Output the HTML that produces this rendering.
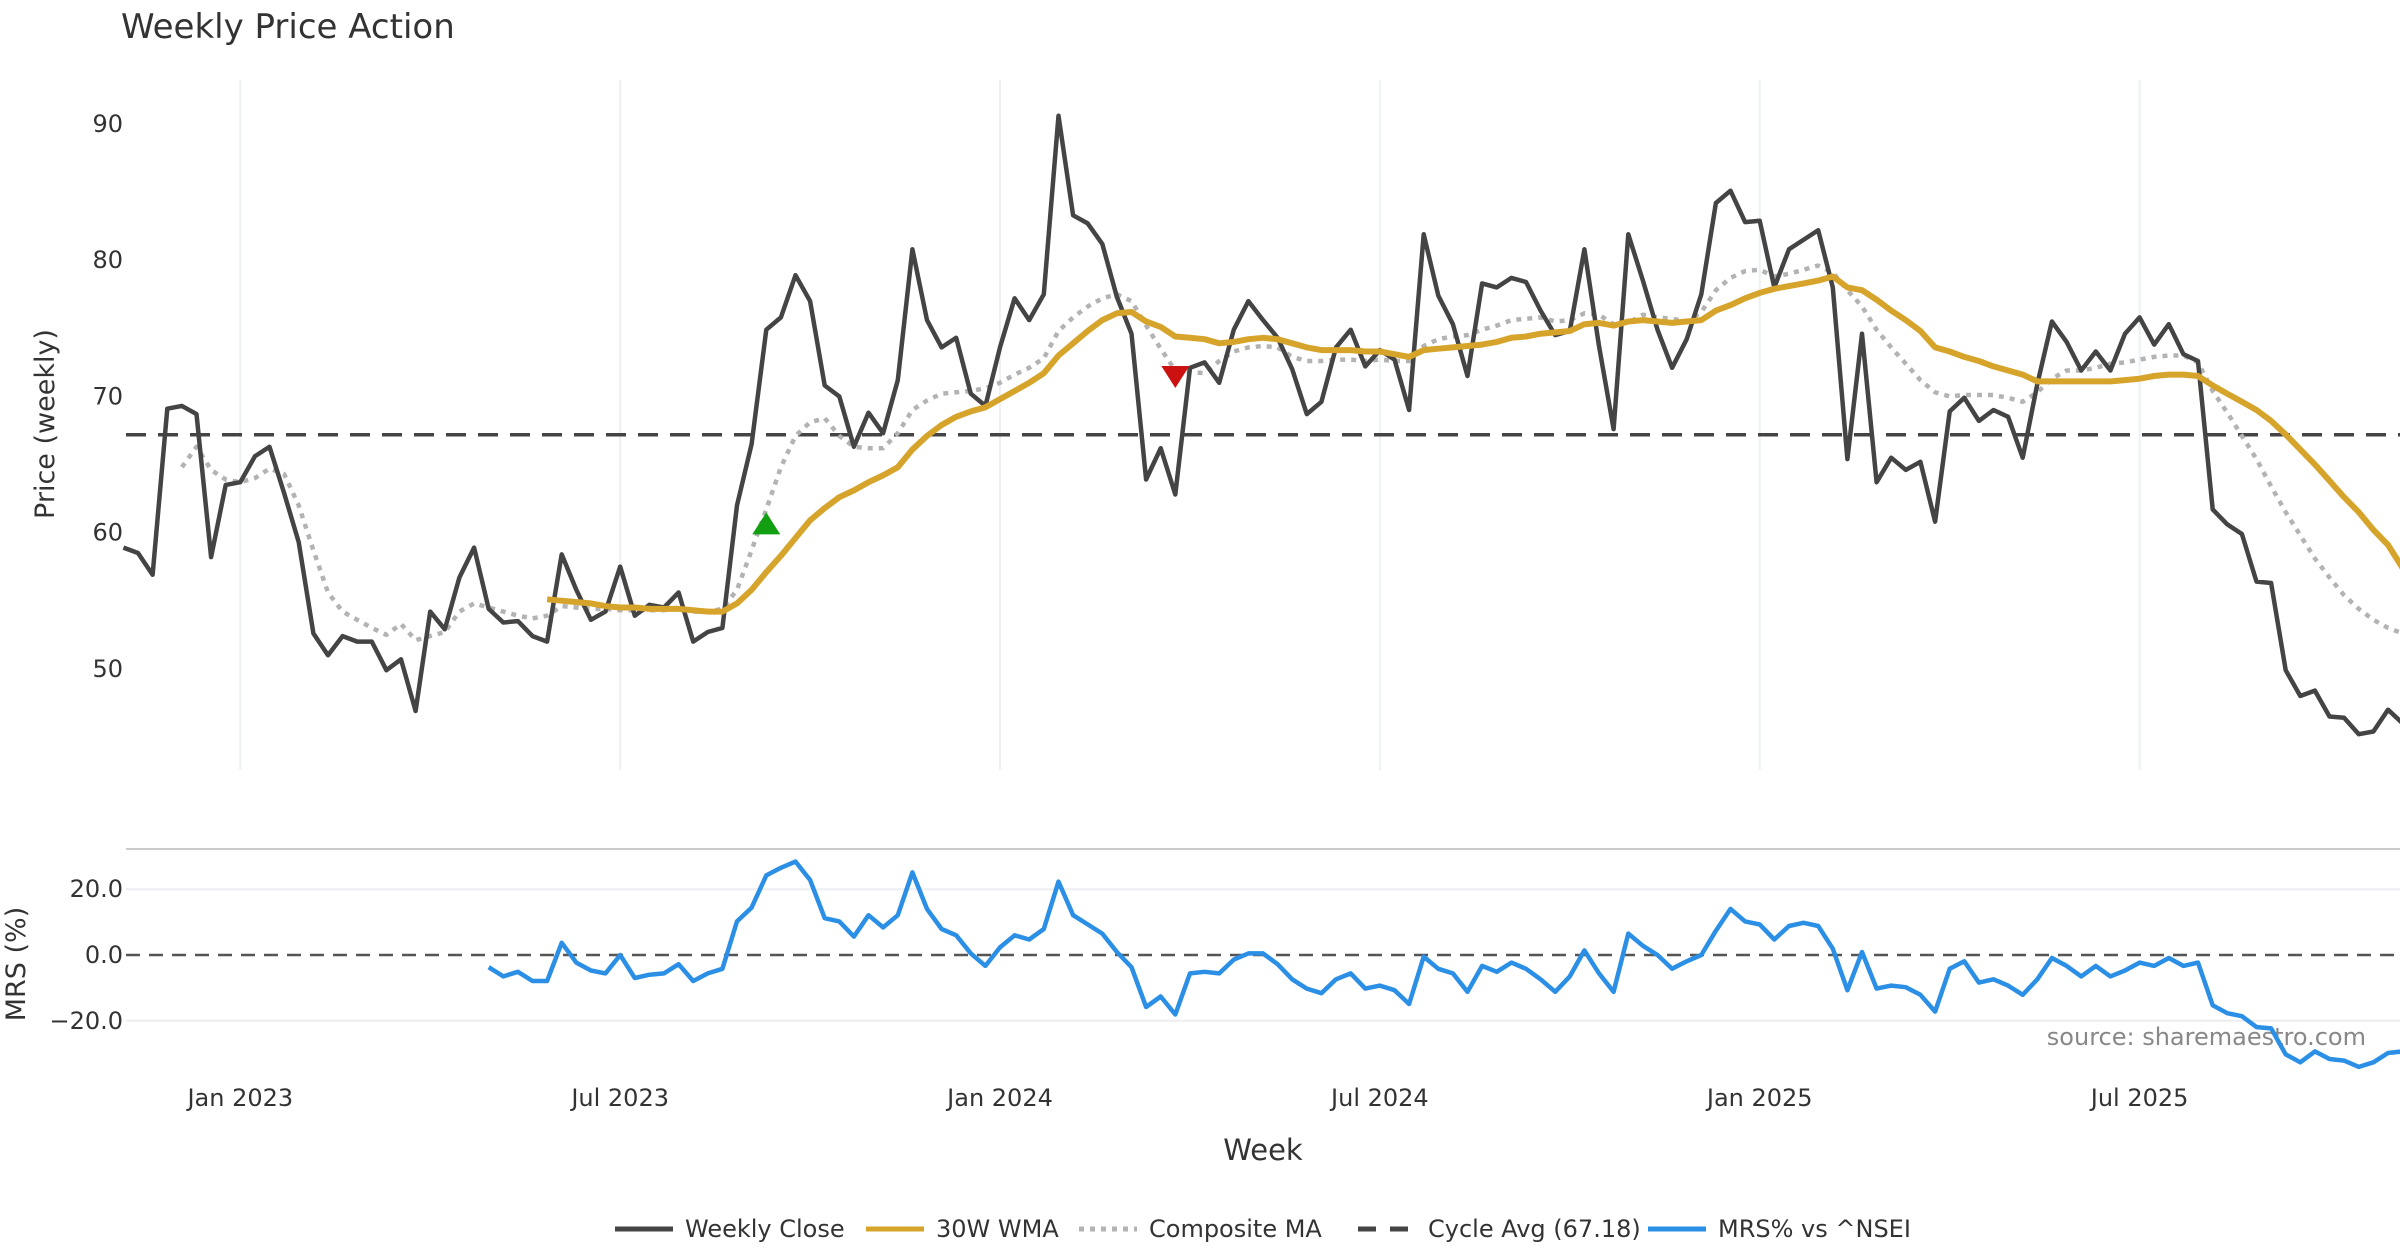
<!DOCTYPE html>
<html><head><meta charset="utf-8"><style>
html,body{margin:0;padding:0;background:#fff}
svg{display:block;font-family:"DejaVu Sans","Liberation Sans",sans-serif}
</style></head><body>
<svg id="chart" width="2400" height="1260" viewBox="0 0 2400 1260" xmlns="http://www.w3.org/2000/svg">
<text x="121" y="38" font-size="34" fill="#333">Weekly Price Action</text>
<text transform="translate(54,424) rotate(-90)" text-anchor="middle" font-size="27" fill="#333">Price (weekly)</text>
<text transform="translate(25,964) rotate(-90)" text-anchor="middle" font-size="27" fill="#333">MRS (%)</text>
<text x="1263" y="1160" text-anchor="middle" font-size="29" fill="#333">Week</text>
<text x="2366" y="1045" text-anchor="end" font-size="24" fill="#888">source: sharemaestro.com</text>
<line x1="126" y1="849" x2="2400" y2="849" stroke="#ccc" stroke-width="2"/>
<g id="grid"></g><g id="series"></g><g id="legend"></g>
</svg>
<script>
const closeVals=[58.9,58.5,56.9,69.1,69.3,68.7,58.2,63.5,63.7,65.6,66.3,62.9,59.3,52.6,51.0,52.4,52.0,52.0,49.9,50.7,46.9,54.2,52.9,56.7,58.9,54.4,53.4,53.5,52.4,52.0,58.4,55.8,53.6,54.2,57.5,53.9,54.7,54.5,55.6,52.0,52.7,53.0,62.0,66.5,74.9,75.8,78.9,77.0,70.8,70.0,66.3,68.8,67.3,71.2,80.8,75.6,73.6,74.3,70.2,69.3,73.6,77.2,75.6,77.5,90.6,83.3,82.7,81.2,77.3,74.6,63.9,66.2,62.8,72.1,72.5,71.0,74.9,77.0,75.6,74.3,72.0,68.7,69.6,73.6,74.9,72.2,73.4,72.7,69.0,81.9,77.4,75.3,71.5,78.3,78.0,78.7,78.4,76.3,74.5,74.8,80.8,73.7,67.6,81.9,78.5,74.9,72.1,74.2,77.5,84.2,85.1,82.8,82.9,78.0,80.8,81.5,82.2,78.0,65.4,74.6,63.7,65.5,64.6,65.2,60.8,68.9,69.9,68.2,69.0,68.5,65.5,70.9,75.5,74.0,71.9,73.3,71.9,74.6,75.8,73.8,75.3,73.1,72.6,61.7,60.6,59.9,56.4,56.3,49.9,48.0,48.4,46.5,46.4,45.2,45.4,47.0,46.0];
const wmaVals=[55.1,55.0,54.9,54.8,54.6,54.5,54.5,54.4,54.4,54.4,54.3,54.2,54.2,54.8,55.8,57.1,58.3,59.6,60.9,61.8,62.6,63.1,63.7,64.2,64.8,66.1,67.1,67.9,68.5,68.9,69.2,69.8,70.4,71.0,71.7,73.0,73.9,74.8,75.6,76.1,76.2,75.5,75.1,74.4,74.3,74.2,73.9,74.0,74.2,74.3,74.2,73.9,73.6,73.4,73.4,73.4,73.3,73.3,73.1,72.9,73.4,73.5,73.6,73.7,73.8,74.0,74.3,74.4,74.6,74.7,74.8,75.3,75.4,75.2,75.5,75.6,75.5,75.4,75.5,75.6,76.3,76.7,77.2,77.6,77.9,78.1,78.3,78.5,78.8,78.0,77.8,77.1,76.3,75.6,74.8,73.6,73.3,72.9,72.6,72.2,71.9,71.6,71.1,71.1,71.1,71.1,71.1,71.1,71.2,71.3,71.5,71.6,71.6,71.5,70.8,70.2,69.6,69.0,68.2,67.2,66.1,65.0,63.8,62.6,61.5,60.2,59.1,57.4];
const compVals=[64.8,66.3,64.6,63.9,63.7,64.0,64.7,64.3,62.0,58.7,55.6,54.2,53.6,53.0,52.5,53.3,52.1,52.4,52.7,54.2,54.8,54.5,54.2,53.9,53.7,53.9,54.6,54.5,54.4,54.4,54.3,54.3,54.3,54.3,54.5,54.2,54.2,54.4,55.8,58.7,61.7,64.8,67.1,68.1,68.4,67.1,66.3,66.2,66.2,67.3,69.0,69.7,70.2,70.3,70.4,70.6,71.0,71.6,72.1,72.8,74.8,75.8,76.6,77.2,77.5,77.0,75.2,73.5,71.9,71.8,71.7,72.6,73.3,73.6,73.7,73.6,72.9,72.6,72.6,72.7,72.7,72.6,72.7,72.6,72.6,73.7,74.2,74.4,74.5,74.9,75.2,75.6,75.7,75.8,75.5,75.6,76.1,76.0,75.3,75.4,76.0,75.8,75.7,75.5,76.2,77.8,78.7,79.2,79.3,78.8,79.0,79.3,79.6,79.1,77.8,76.6,74.9,73.6,72.4,71.2,70.3,70.0,70.1,70.1,70.1,69.9,69.6,70.3,71.3,71.9,71.9,72.1,72.4,72.5,72.7,72.9,73.0,73.0,72.5,70.4,68.8,67.1,65.4,63.4,61.5,59.8,58.1,56.7,55.4,54.4,53.6,53.0,52.6];
const mrsVals=[-3.7,-6.5,-5.1,-7.9,-7.9,3.7,-2.3,-4.7,-5.6,0,-7.0,-6.0,-5.6,-2.8,-7.9,-5.6,-4.2,10.2,14.4,24.2,26.5,28.4,22.8,11.2,10.2,5.6,12.1,8.4,12.1,25.1,14.0,7.9,6.0,0.5,-3.3,2.3,6.0,4.7,7.9,22.3,12.1,9.3,6.5,0.9,-3.7,-15.8,-12.6,-18.1,-5.6,-5.1,-5.6,-1.4,0.5,0.5,-2.8,-7.4,-10.2,-11.6,-7.4,-5.6,-10.2,-9.3,-10.7,-14.9,-0.5,-4.2,-5.6,-11.2,-3.3,-5.1,-2.3,-4.2,-7.4,-11.2,-6.5,1.4,-5.6,-11.2,6.5,2.8,0,-4.2,-1.9,0,7.4,14.0,10.2,9.3,4.7,8.8,9.8,8.8,1.9,-10.7,0.9,-10.2,-9.3,-9.8,-12.1,-17.2,-4.2,-1.9,-8.4,-7.4,-9.3,-12.1,-7.4,-0.9,-3.3,-6.5,-3.3,-6.5,-4.7,-2.3,-3.3,-0.9,-3.3,-2.3,-15.3,-17.7,-18.6,-21.9,-22.3,-30.2,-32.6,-29.3,-31.6,-32.1,-34.0,-32.6,-29.8,-29.3];
const cycleAvg=67.18;
const buySignal={week:44,price:60.6};
const sellSignal={week:72,price:71.5};
const xTickWeeks=[8,34,60,86,112,138];
const xTickLabels=["Jan 2023","Jul 2023","Jan 2024","Jul 2024","Jan 2025","Jul 2025"];
const priceTicks=[50,60,70,80,90];
const mrsTicks=[-20,0,20];
const mrsTickLabels=["\u221220.0","0.0","20.0"];

const NS="http://www.w3.org/2000/svg";
const N=closeVals.length;
const X=i=>240.3+(i-8)*14.61;
const YP=v=>124+(90-v)*13.62;
const YM=v=>955-v*3.29;
function mk(tag,attrs,parent){const e=document.createElementNS(NS,tag);for(const k in attrs)e.setAttribute(k,attrs[k]);parent.appendChild(e);return e;}
const grid=document.getElementById('grid'),ser=document.getElementById('series'),leg=document.getElementById('legend');

xTickWeeks.forEach((w,j)=>{
  const g=mk('line',{x1:X(w),x2:X(w),y1:80,y2:770,stroke:'#eef0f3','stroke-width':2},grid);
  
  
  const t=mk('text',{x:X(w),y:1106,'text-anchor':'middle','font-size':24,fill:'#333'},grid);
  t.textContent=xTickLabels[j];
  
  
});
priceTicks.forEach(v=>{
  const t=mk('text',{x:123,y:YP(v)+8,'text-anchor':'end','font-size':24,fill:'#333'},grid);
  t.textContent=v;
  
  
});
mrsTicks.forEach((v,j)=>{
  if(v!==0){const l=mk('line',{x1:126,x2:2400,y1:YM(v),y2:YM(v),stroke:'#eceef1','stroke-width':2},grid);
  
  }
  const t=mk('text',{x:123,y:YM(v)+8,'text-anchor':'end','font-size':24,fill:'#333'},grid);
  t.textContent=mrsTickLabels[j];
  
  
});
const zl=mk('line',{x1:126,x2:2400,y1:YM(0),y2:YM(0),stroke:'#555','stroke-width':2.5,'stroke-dasharray':'14,9'},grid);


const cl=mk('line',{x1:126,x2:2400,y1:YP(cycleAvg),y2:YP(cycleAvg),stroke:'#444','stroke-width':3.5,'stroke-dasharray':'20,12'},grid);



function path(vals,yf,style,name){
  const off=N-vals.length;
  const d=vals.map((v,k)=>(k?'L':'M')+X(k+off).toFixed(1)+','+yf(v).toFixed(1)).join('');
  const p=mk('path',Object.assign({d:d,fill:'none','stroke-linejoin':'round'},style),ser);
  
  
}
path(compVals,YP,{stroke:'#b3b3b3','stroke-width':4.5,'stroke-dasharray':'5,6'},'composite-ma-line');
path(closeVals,YP,{stroke:'#444','stroke-width':4.5},'weekly-close-line');
path(wmaVals,YP,{stroke:'#d6a42a','stroke-width':6},'wma-30w-line');
path(mrsVals,YM,{stroke:'#2b8fe6','stroke-width':4.5},'mrs-line');

const bx=X(buySignal.week),by=YP(buySignal.price);
const bm=mk('polygon',{points:`${bx-14},${by+10} ${bx+14},${by+10} ${bx},${by-12}`,fill:'#12a012'},ser);


const sx=X(sellSignal.week),sy=YP(sellSignal.price);
const sm=mk('polygon',{points:`${sx-14},${sy-10} ${sx+14},${sy-10} ${sx},${sy+12}`,fill:'#cc1111'},ser);



const legendItems=[
 {x:615,label:'Weekly Close',stroke:'#444',dash:null},
 {x:866,label:'30W WMA',stroke:'#d6a42a',dash:null},
 {x:1079,label:'Composite MA',stroke:'#b3b3b3',dash:'5,6'},
 {x:1358,label:'Cycle Avg (67.18)',stroke:'#444',dash:'18,14'},
 {x:1648,label:'MRS% vs ^NSEI',stroke:'#2b8fe6',dash:null}];
legendItems.forEach(it=>{
  const l=mk('line',{x1:it.x,x2:it.x+58,y1:1229,y2:1229,stroke:it.stroke,'stroke-width':5},leg);
  if(it.dash)l.setAttribute('stroke-dasharray',it.dash);
  
  
  const t=mk('text',{x:it.x+70,y:1237,'font-size':24,fill:'#333'},leg);
  t.textContent=it.label;
  
  
});
</script>
</body></html>
